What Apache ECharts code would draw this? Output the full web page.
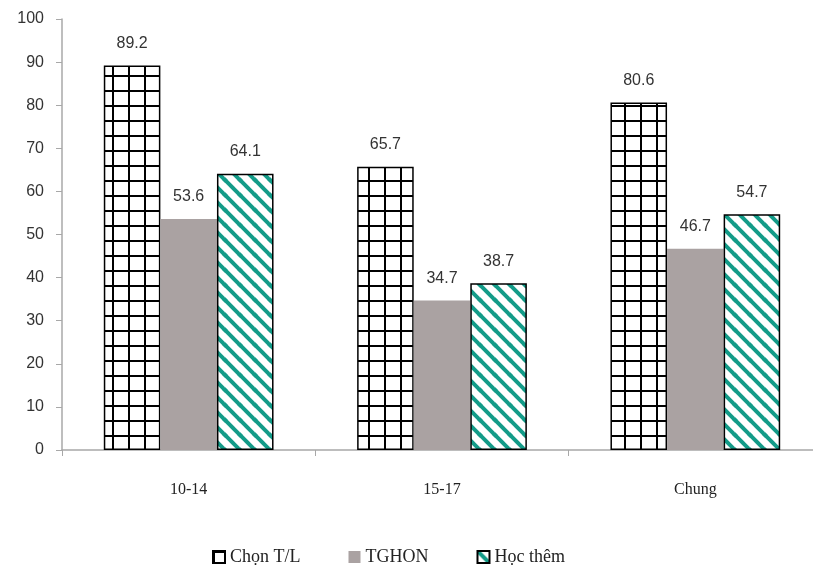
<!DOCTYPE html>
<html>
<head>
<meta charset="utf-8">
<script src="https://cdn.jsdelivr.net/npm/echarts@6/dist/echarts.min.js"></script>
<style>
  html, body { margin: 0; padding: 0; background: #fff; }
  #chart { width: 813px; height: 566px; }
</style>
</head>
<body>
<div id="chart"></div>
<script>
// Age groups and shares (%) per indicator
const categories = ['10-14', '15-17', 'Chung'];
const seriesNames = ['Chọn T/L', 'TGHON', 'Học thêm'];
const chonTL = [89.2, 65.7, 80.6];
const tghon = [53.6, 34.7, 46.7];
const hocThem = [64.1, 38.7, 54.7];
const yTicks = [0, 10, 20, 30, 40, 50, 60, 70, 80, 90, 100];

// Checkered fill: white cells separated by black lines
function gridPattern() {
  const c = document.createElement('canvas');
  c.width = 16; c.height = 15;
  const g = c.getContext('2d');
  g.fillStyle = '#fff';
  g.fillRect(0, 0, 16, 15);
  g.fillStyle = '#000';
  g.fillRect(0, 0, 2, 15);
  g.fillRect(0, 0, 16, 2);
  return c;
}

// Diagonal teal stripes running top-left to bottom-right
function hatchPattern() {
  const s = 15;
  const c = document.createElement('canvas');
  c.width = s; c.height = s;
  const g = c.getContext('2d');
  g.fillStyle = '#fff';
  g.fillRect(0, 0, s, s);
  g.strokeStyle = '#139b88';
  g.lineWidth = 4;
  g.lineCap = 'square';
  [[0, 0, s, s], [-s, 0, 0, s], [s, 0, 2 * s, s], [0, -s, s, 0], [0, s, s, 2 * s]].forEach(l => {
    g.beginPath(); g.moveTo(l[0], l[1]); g.lineTo(l[2], l[3]); g.stroke();
  });
  return c;
}

const chart = echarts.init(document.getElementById('chart'), null, { renderer: 'canvas' });

const labelStyle = {
  show: true,
  position: 'top',
  distance: 14,
  fontFamily: 'Liberation Sans, Arial, sans-serif',
  fontSize: 16,
  color: '#333',
  formatter: p => p.value.toFixed(1)
};

chart.setOption({
  animation: false,
  backgroundColor: '#fff',
  // plot area runs slightly past the right edge of the canvas
  grid: { left: 62, width: 760, top: 19, bottom: 116, containLabel: false, outerBoundsMode: 'none' },
  legend: {
    top: 543,
    left: 207,
    icon: 'rect',
    itemWidth: 12,
    itemHeight: 12,
    itemGap: 48,
    textStyle: { fontFamily: 'Liberation Serif, Times New Roman, serif', fontSize: 18, color: '#222' },
    data: seriesNames
  },
  xAxis: {
    type: 'category',
    data: categories,
    axisLine: { lineStyle: { color: '#a8a8a8', width: 1.5 } },
    axisTick: { show: true, length: 6, lineStyle: { color: '#a8a8a8' } },
    axisLabel: { margin: 32, fontFamily: 'Liberation Serif, Times New Roman, serif', fontSize: 16, color: '#222' }
  },
  yAxis: {
    type: 'value',
    min: yTicks[0],
    max: yTicks[yTicks.length - 1],
    interval: 10,
    splitLine: { show: false },
    axisLine: { show: true, lineStyle: { color: '#a8a8a8', width: 1.5 } },
    axisTick: { show: true, length: 6, lineStyle: { color: '#a8a8a8' } },
    axisLabel: { margin: 18, fontFamily: 'Liberation Sans, Arial, sans-serif', fontSize: 16, color: '#333' }
  },
  series: [
    {
      name: seriesNames[0], type: 'bar', data: chonTL,
      barGap: '0%', barCategoryGap: '33%',
      itemStyle: { color: { image: gridPattern(), repeat: 'repeat' }, borderColor: '#000', borderWidth: 1.5 },
      label: labelStyle
    },
    {
      name: seriesNames[1], type: 'bar', data: tghon,
      itemStyle: { color: '#aaa2a2' },
      label: labelStyle
    },
    {
      name: seriesNames[2], type: 'bar', data: hocThem,
      itemStyle: { color: { image: hatchPattern(), repeat: 'repeat' }, borderColor: '#000', borderWidth: 1.5 },
      label: labelStyle
    }
  ]
});
</script>
</body>
</html>
